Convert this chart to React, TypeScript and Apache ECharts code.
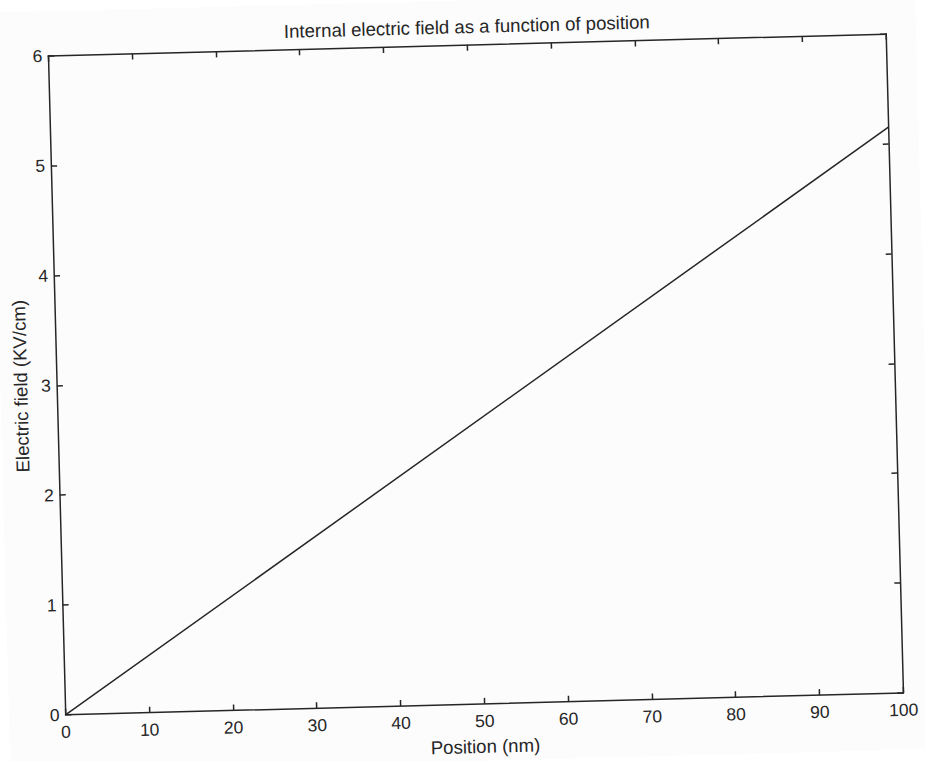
import React, { useEffect, useRef } from "react";
import * as echarts from "echarts";

const titleText = "Internal electric field as a function of position";
const xAxisTitle = "Position (nm)";
const yAxisTitle = "Electric field (KV/cm)";
const positions = [0, 100];
const fieldValues = [0, 5.15];
const xTicks = [0, 10, 20, 30, 40, 50, 60, 70, 80, 90, 100];
const yTicks = [0, 1, 2, 3, 4, 5, 6];

const FONT = '"Liberation Sans", Arial, Helvetica, sans-serif';
const INK = "#262626";

export default function App() {
  const ref = useRef<HTMLDivElement>(null);
  useEffect(() => {
    if (!ref.current) return;
    const chart = echarts.init(ref.current, undefined, { renderer: "svg" });
    const axisLine = { show: true, onZero: false, lineStyle: { color: INK, width: 1.5 } };
    const tick = { show: true, inside: true, length: 6, lineStyle: { color: INK, width: 1.5 } };
    chart.setOption({
      animation: false,
      backgroundColor: "#fcfcfc",
      title: {
        text: titleText,
        left: 293,
        top: 17,
        padding: 0,
        textStyle: { fontFamily: FONT, fontSize: 18.6, fontWeight: "normal", color: INK },
      },
      grid: { left: 56.75, top: 44.7, right: 30.25, bottom: 55.3, containLabel: false },
      xAxis: [
        {
          type: "value",
          min: xTicks[0],
          max: xTicks[xTicks.length - 1],
          interval: 10,
          position: "bottom",
          name: xAxisTitle,
          nameLocation: "middle",
          nameGap: 33,
          nameTextStyle: { fontFamily: FONT, fontSize: 18.6, color: INK },
          axisLine,
          axisTick: tick,
          axisLabel: { fontFamily: FONT, fontSize: 17.5, color: INK, margin: 8 },
          splitLine: { show: false },
        },
        {
          type: "value",
          min: xTicks[0],
          max: xTicks[xTicks.length - 1],
          interval: 10,
          position: "top",
          axisLine,
          axisTick: tick,
          axisLabel: { show: false },
          splitLine: { show: false },
        },
      ],
      yAxis: [
        {
          type: "value",
          min: yTicks[0],
          max: yTicks[yTicks.length - 1],
          interval: 1,
          position: "left",
          name: yAxisTitle,
          nameLocation: "middle",
          nameGap: 25,
          nameTextStyle: { fontFamily: FONT, fontSize: 18.6, color: INK },
          axisLine,
          axisTick: tick,
          axisLabel: { fontFamily: FONT, fontSize: 17.5, color: INK, margin: 6 },
          splitLine: { show: false },
        },
        {
          type: "value",
          min: yTicks[0],
          max: yTicks[yTicks.length - 1],
          interval: 1,
          position: "right",
          axisLine,
          axisTick: tick,
          axisLabel: { show: false },
          splitLine: { show: false },
        },
      ],
      series: [
        {
          type: "line",
          data: positions.map((p, i) => [p, fieldValues[i]]),
          showSymbol: false,
          lineStyle: { color: INK, width: 1.5 },
          xAxisIndex: 0,
          yAxisIndex: 0,
        },
      ],
    });
    return () => chart.dispose();
  }, []);
  return (
    <div
      ref={ref}
      style={{
        position: "absolute",
        left: 0,
        top: 0,
        width: 925,
        height: 761,
        transform: "rotate(-1.5deg)",
        transformOrigin: "475.75px 375.25px",
      }}
    />
  );
}
